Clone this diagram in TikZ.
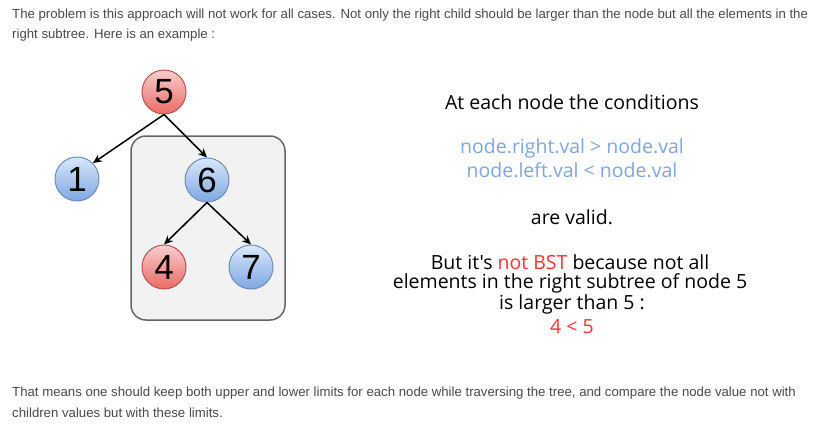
\documentclass[tikz,border=0pt]{standalone}
\usepackage{fontspec}
\setmainfont{Liberation Sans}
\newfontfamily\handfont{Open Sans}
\usetikzlibrary{arrows.meta}
\definecolor{redtop}{HTML}{F8CECC}
\definecolor{redbot}{HTML}{EA6B66}
\definecolor{redline}{HTML}{B85450}
\definecolor{bluetop}{HTML}{DAE8FC}
\definecolor{bluebot}{HTML}{7EA6E0}
\definecolor{blueline}{HTML}{6C8EBF}
\definecolor{boxfill}{HTML}{F2F2F2}
\definecolor{boxline}{HTML}{666666}
\definecolor{condblue}{HTML}{7EA6E0}
\definecolor{warnred}{HTML}{FF3333}
\definecolor{bodygray}{HTML}{4A4A4A}
\begin{document}
\begin{tikzpicture}[x=1pt,y=-1pt,
  tnode/.style={circle, minimum size=44pt, inner sep=0pt, line width=1pt, font=\fontsize{35}{35}\selectfont},
  rednode/.style={tnode, top color=redtop, bottom color=redbot, draw=redline},
  bluenode/.style={tnode, top color=bluetop, bottom color=bluebot, draw=blueline},
  edge/.style={line width=1.5pt, -{Stealth[length=9pt,width=8pt]}},
  body/.style={anchor=west, inner sep=0pt, text=bodygray, font=\fontsize{13.2}{15}\selectfont},
  hand/.style={inner sep=0pt, font=\handfont\fontsize{19.5}{22}\selectfont}
]
\useasboundingbox (0,0) rectangle (819,431);
\fill[white] (0,0) rectangle (819,431);

\node[body] (p1) at (12,15) {The problem is this approach will not work for all cases. Not only the right child should be larger than the node but all the elements in the};
\node[body] (p2) at (12,35) {right subtree. Here is an example :};
\node[body] (p3) at (12,393) {That means one should keep both upper and lower limits for each node while traversing the tree, and compare the node value not with};
\node[body] (p4) at (12,413) {children values but with these limits.};

\draw[fill=boxfill, draw=boxline, line width=1.5pt, rounded corners=15pt] (131,136) rectangle (285,320);

\node[rednode] (n5) at (164,92) {5};
\node[bluenode] (n1) at (77,179) {1};
\node[bluenode] (n6) at (207,180) {6};
\node[rednode] (n4) at (164,267) {4};
\node[bluenode] (n7) at (251,267) {7};

\draw[edge] (n5.south) -- (n1.north east);
\draw[edge] (n5.south) -- (n6.north);
\draw[edge] (n6.south) -- (n4.north);
\draw[edge] (n6.south) -- (n7.north);

\node[hand] (t1) at (572,102) {At each node the conditions};
\node[hand, text=condblue] (t2) at (572,148) {node.right.val > node.val};
\node[hand, text=condblue] (t3) at (572,170) {node.left.val < node.val};
\node[hand] (t4) at (572,217) {are valid.};
\node[hand] (t5) at (570,262) {But it's \textcolor{warnred}{not BST} because not all};
\node[hand] (t6) at (570,283) {elements in the right subtree of node 5};
\node[hand] (t7) at (572,304) {is larger than 5 :};
\node[hand, text=warnred] (t8) at (572,327) {4 < 5};
\end{tikzpicture}
\end{document}
